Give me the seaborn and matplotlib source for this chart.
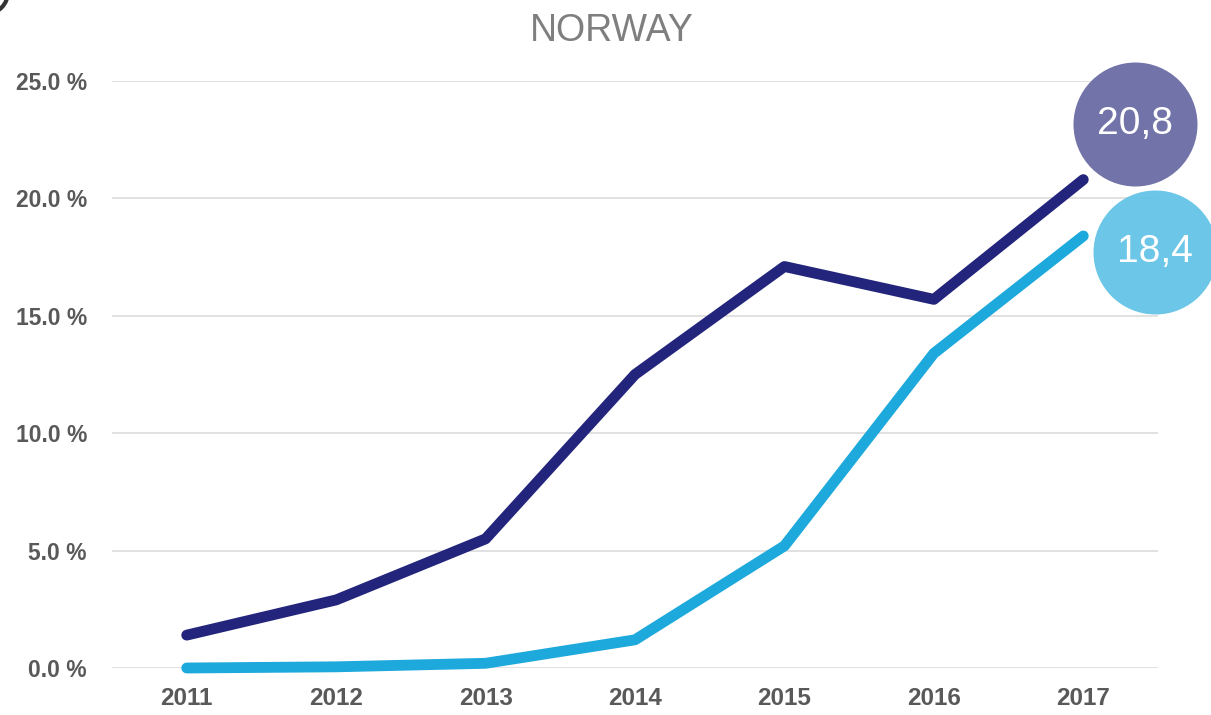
import numpy as np
import pandas as pd
import matplotlib
matplotlib.use("Agg")
import matplotlib.pyplot as plt
import matplotlib.transforms as mtransforms
from matplotlib.patches import Circle
import seaborn as sns

years = [2011, 2012, 2013, 2014, 2015, 2016, 2017]
series_dark = [1.4, 2.9, 5.5, 12.5, 17.1, 15.7, 20.8]
series_light = [0.0, 0.05, 0.2, 1.2, 5.2, 13.4, 18.4]
series_names = ["dark", "light"]
bubble_labels = ["20,8", "18,4"]
yticks = [0, 5, 10, 15, 20, 25]
ytick_labels = ["0.0 %", "5.0 %", "10.0 %", "15.0 %", "20.0 %", "25.0 %"]
title = "NORWAY"

line_colors = {"dark": "#23247B", "light": "#1DA9DB"}
bubble_colors = ["#6A6BA4", "#64C3E6"]

df = pd.DataFrame({
    "year": years * 2,
    "value": series_dark + series_light,
    "series": [series_names[0]] * len(years) + [series_names[1]] * len(years),
})

sns.set_theme(style="white")
plt.rcParams["font.family"] = ["Liberation Sans", "DejaVu Sans"]

fig = plt.figure(figsize=(12.11, 7.15), dpi=100)
ax = fig.add_axes([112 / 1211, 1 - 668 / 715, (1158 - 112) / 1211, (668 - 81) / 715])

sns.lineplot(data=df, x="year", y="value", hue="series", palette=line_colors,
             linewidth=7.8, ax=ax, legend=False, zorder=3,
             solid_capstyle="round")
for ln in ax.lines:
    ln.set_solid_capstyle("round")
    ln.set_clip_on(False)

ax.set_xlim(2010.5, 2017.5)
ax.set_ylim(0, 25)
ax.set_xticks(years)
ax.set_xticklabels([str(y) for y in years])
ax.set_yticks(yticks)
ax.set_yticklabels(ytick_labels)
ax.set_xlabel("")
ax.set_ylabel("")
for s in ax.spines.values():
    s.set_visible(False)
ax.grid(axis="y", color="#D9D9D9", linewidth=1.1, zorder=0)
ax.grid(axis="x", visible=False)
ax.set_axisbelow(True)
ax.tick_params(axis="y", length=0, pad=18, labelsize=16.5, labelcolor="#595959")
ax.tick_params(axis="x", length=0, pad=14, labelsize=17.5, labelcolor="#595959")
for lab in ax.get_xticklabels() + ax.get_yticklabels():
    lab.set_fontweight("bold")

fig.text(0.505, 1 - 31 / 715, title, ha="center", va="center",
         fontsize=27, color="#7F7F7F")

# bubbles near last points, offset in pixels
last_vals = [series_dark[-1], series_light[-1]]
offsets_px = [(52, 56), (72, -16)]
radius_px = 62
for val, lab, col, (dx, dy) in zip(last_vals, bubble_labels, bubble_colors, offsets_px):
    tr = ax.transData + mtransforms.Affine2D().translate(dx, dy)
    ax.scatter([years[-1]], [val], s=(2 * radius_px * 0.72) ** 2, color=col,
               alpha=0.95, transform=tr, clip_on=False, zorder=5, linewidths=0)
    ax.annotate(lab, xy=(years[-1], val), xytext=(dx * 0.72, dy * 0.72),
                textcoords="offset points", ha="center", va="center",
                fontsize=28, color="white", zorder=6, annotation_clip=False)

# small dark arc artifact in top-left corner
fig.patches.append(Circle((-14, 715 + 8), 22, transform=None, facecolor="none",
                          edgecolor="#333333", linewidth=3))

fig.savefig("out.png", dpi=100)
